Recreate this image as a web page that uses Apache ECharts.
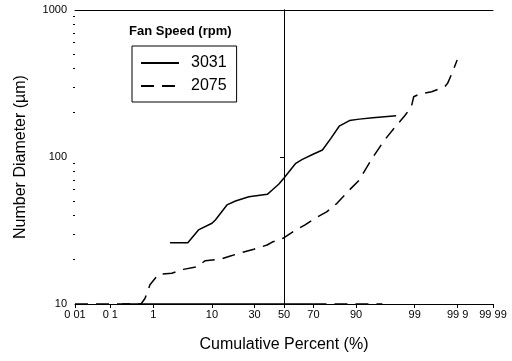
<!DOCTYPE html>
<html>
<head>
<meta charset="utf-8">
<script src="https://cdn.jsdelivr.net/npm/echarts@6/dist/echarts.min.js"></script>
<style>html,body{margin:0;padding:0;background:#fff}#c{width:512px;height:361px}</style>
</head>
<body>
<div id="c"></div>
<script>
// ---- data (cumulative percent, diameter in µm) ----
const tickPercents = [0.01, 0.1, 1, 10, 30, 50, 70, 90, 99, 99.9, 99.99];
const tickLabels = ['0 01', '0 1', '1', '10', '30', '50', '70', '90', '99', '99 9', '99 99'];
const yMajorTicks = [10, 100, 1000];
const yMinorTicks = [20, 30, 40, 50, 60, 70, 80, 90, 200, 300, 400, 500, 600, 700, 800, 900];
const medianPercent = 50;

const pct3031 = [2.13, 4.35, 6.4, 10.0, 11.1, 15.5, 19.4, 26.6, 38.3, 41.7, 46.4, 50.0, 58.3, 62.8, 69.4, 75.3, 79.8, 83.7, 87.8, 91.0, 94.3, 97.7];
const dia3031 = [26.1, 26.1, 31.9, 35.4, 37.3, 47.2, 50.2, 53.7, 55.7, 59.6, 65.5, 72, 90.6, 96.4, 104, 111.5, 134, 162, 177, 181, 185, 191];
const floorPct3031 = [0.2, 70];
const floorDia3031 = [10, 10];

const pct2075 = [0.01, 0.545, 0.668, 0.854, 1.27, 2.29, 3.68, 6.04, 8.06, 12.9, 17.0, 23.7, 29.6, 38.2, 41.7, 49.3, 58.3, 64.6, 71.0, 77.8, 82.7, 87.8, 91.0, 92.8, 94.6, 96.3, 97.5, 98.4, 98.83, 98.95, 99.21, 99.57, 99.79, 99.82, 99.865, 99.897];
const dia2075 = [10, 10, 10.9, 13.5, 15.9, 16.2, 17.2, 17.9, 19.7, 20.2, 21.2, 22.6, 23.6, 25.2, 26.4, 28.0, 31.9, 34.5, 38.3, 42.5, 48.4, 59.7, 69.8, 83.8, 103, 130, 157, 190, 220, 257, 268, 278, 301, 317, 380, 457];
const floorPct2075 = [70, 96];
const floorDia2075 = [10, 10];

// inverse normal CDF (probability-scale transform)
function probit(p) {
  const a=[-3.969683028665376e+01,2.209460984245205e+02,-2.759285104469687e+02,1.383577518672690e+02,-3.066479806614716e+01,2.506628277459239e+00];
  const b=[-5.447609879822406e+01,1.615858368580409e+02,-1.556989798598866e+02,6.680131188771972e+01,-1.328068155288572e+01];
  const c=[-7.784894002430293e-03,-3.223964580411365e-01,-2.400758277161838e+00,-2.549732539343734e+00,4.374664141464968e+00,2.938163982698783e+00];
  const d=[7.784695709041462e-03,3.224671290700398e-01,2.445134137142996e+00,3.754408661907416e+00];
  const pl=0.02425, ph=1-pl; let q, r;
  if (p < pl) { q=Math.sqrt(-2*Math.log(p)); return (((((c[0]*q+c[1])*q+c[2])*q+c[3])*q+c[4])*q+c[5])/((((d[0]*q+d[1])*q+d[2])*q+d[3])*q+1); }
  if (p <= ph) { q=p-0.5; r=q*q; return (((((a[0]*r+a[1])*r+a[2])*r+a[3])*r+a[4])*r+a[5])*q/(((((b[0]*r+b[1])*r+b[2])*r+b[3])*r+b[4])*r+1); }
  q=Math.sqrt(-2*Math.log(1-p)); return -(((((c[0]*q+c[1])*q+c[2])*q+c[3])*q+c[4])*q+c[5])/((((d[0]*q+d[1])*q+d[2])*q+d[3])*q+1);
}
const z = pct => probit(pct / 100);
const xMin = z(tickPercents[0]);
const xMax = z(tickPercents[tickPercents.length - 1]);
const tickZ = tickPercents.map(z);

function pairs(px, py) { return px.map((p, i) => [z(p), py[i]]); }
const data3031 = pairs(floorPct3031, floorDia3031).concat([null], pairs(pct3031, dia3031));
const data2075 = pairs(pct2075, dia2075).concat([null], pairs(floorPct2075, floorDia2075));

const FONT = 'Liberation Sans';
const chart = echarts.init(document.getElementById('c'), null, {renderer: 'canvas'});
chart.setOption({
  animation: false,
  backgroundColor: '#fff',
  textStyle: {fontFamily: FONT, color: '#000'},
  title: {
    text: 'Fan Speed (rpm)', left: 129, top: 25, padding: 0,
    textStyle: {fontFamily: FONT, fontSize: 13, fontWeight: 'bold', color: '#000'}
  },
  legend: {
    data: ['3031', '2075'], orient: 'vertical', left: 132, top: 46,
    borderColor: '#000', borderWidth: 1, borderRadius: 0,
    padding: [9, 10, 8, 8], itemWidth: 38, itemHeight: 16, itemGap: 7,
    itemStyle: {opacity: 0, borderWidth: 0},
    textStyle: {fontFamily: FONT, fontSize: 16, color: '#000', padding: [0, 0, 0, 7]}
  },
  grid: {left: 75, right: 19, top: 10, bottom: 57, containLabel: false},
  xAxis: [{
    type: 'value', min: xMin, max: xMax, position: 'bottom',
    name: 'Cumulative Percent (%)', nameLocation: 'middle', nameGap: 33,
    nameTextStyle: {fontFamily: FONT, fontSize: 16, color: '#000'},
    axisLine: {show: true, lineStyle: {color: '#000', width: 1}},
    axisTick: {show: true, inside: false, length: 4, customValues: tickZ, lineStyle: {color: '#000'}},
    axisLabel: {
      show: true, margin: 5, fontFamily: FONT, fontSize: 11, color: '#000',
      customValues: tickZ,
      formatter: v => { let k = 0, best = 1e9; tickZ.forEach((t, i) => { if (Math.abs(t - v) < best) { best = Math.abs(t - v); k = i; } }); return tickLabels[k]; }
    },
    splitLine: {show: false}
  }, {
    type: 'value', min: xMin, max: xMax, position: 'top',
    axisLine: {show: true, lineStyle: {color: '#000', width: 1}},
    axisTick: {show: false}, axisLabel: {show: false}, splitLine: {show: false}
  }],
  yAxis: [{
    type: 'log', logBase: 10, min: 10, max: 1000, position: 'left',
    name: 'Number Diameter (µm)', nameLocation: 'middle', nameGap: 46, nameRotate: 90,
    nameTextStyle: {fontFamily: FONT, fontSize: 16, color: '#000'},
    axisLine: {show: true, lineStyle: {color: '#000', width: 1}},
    axisTick: {show: true, inside: false, length: 4, customValues: yMajorTicks, lineStyle: {color: '#000'}},
    axisLabel: {margin: 8, fontFamily: FONT, fontSize: 11, color: '#000', customValues: yMajorTicks, formatter: v => String(Math.round(v))},
    splitLine: {show: false}
  }, {
    type: 'log', logBase: 10, min: 10, max: 1000, position: 'right',
    axisLine: {show: true, lineStyle: {color: '#000', width: 1}},
    axisTick: {show: false}, axisLabel: {show: false}, splitLine: {show: false}
  }, {
    type: 'log', logBase: 10, min: 10, max: 1000, position: 'left',
    axisLine: {show: false},
    axisTick: {show: true, inside: false, length: 2, customValues: yMinorTicks, lineStyle: {color: '#000'}},
    axisLabel: {show: false}, splitLine: {show: false}
  }],
  series: [{
    name: '3031', type: 'line', data: data3031, symbol: 'none', showSymbol: false,
    connectNulls: false, xAxisIndex: 0, yAxisIndex: 0,
    lineStyle: {color: '#000', width: 1.5, type: 'solid'},
    itemStyle: {color: '#000'},
    markLine: {
      silent: true, symbol: 'none', label: {show: false},
      lineStyle: {color: '#000', width: 1, type: 'solid'},
      data: [{xAxis: z(medianPercent)}]
    }
  }, {
    name: '2075', type: 'line', data: data2075, symbol: 'none', showSymbol: false,
    connectNulls: false, xAxisIndex: 0, yAxisIndex: 0,
    lineStyle: {color: '#000', width: 1.5, type: [13, 8]},
    itemStyle: {color: '#000'}
  }]
});
</script>
</body>
</html>
